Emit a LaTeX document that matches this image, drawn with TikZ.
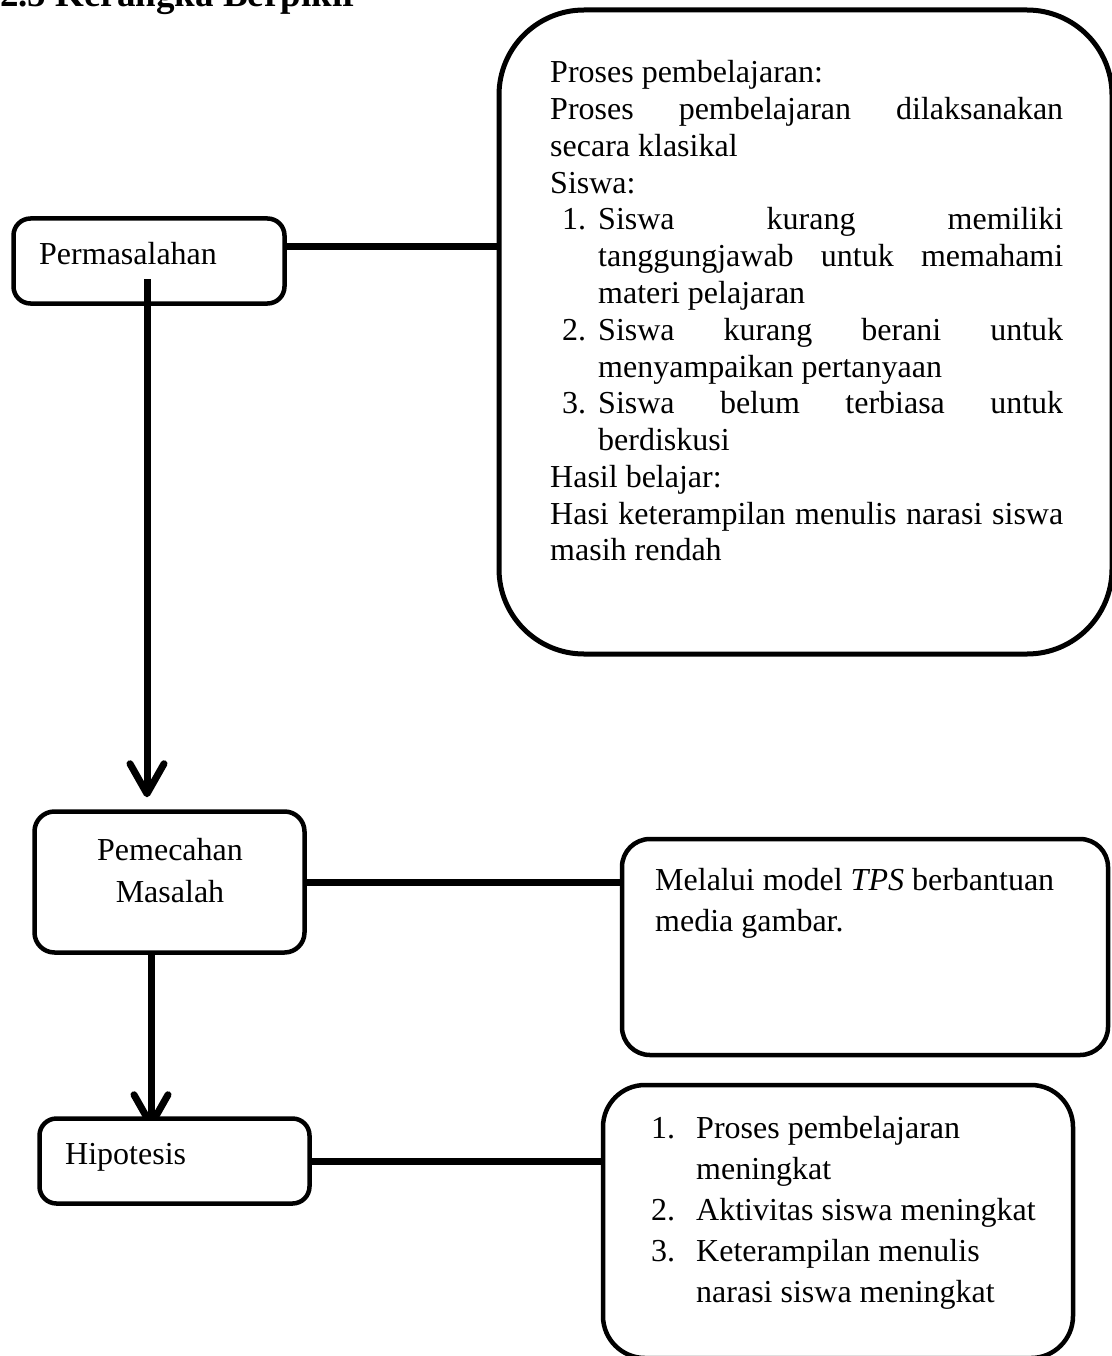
\documentclass[tikz,border=0pt]{standalone}
\usepackage{fontspec}
\setmainfont{Liberation Serif}
\usetikzlibrary{arrows.meta,backgrounds}
\tikzset{
  box/.style={draw, line width=4.5pt, fill=white, inner sep=0pt},
  conn/.style={line width=7pt},
  arr/.style={line width=7pt, -{Straight Barb[length=30pt,width=34pt,round]}},
  txt/.style={inner sep=0pt, anchor=base west, font=\fontsize{32}{36.75}\selectfont},
}
\begin{document}
\begin{tikzpicture}[x=1pt,y=-1pt]
\useasboundingbox (0,0) rectangle (1111,1356);
% title (cut at the top edge)
\node[inner sep=0pt, anchor=base west, font=\fontsize{37}{40}\selectfont\bfseries] (title) at (0,7) {2.5 Kerangka Berpikir};
% boxes
\node[box, minimum width=271pt, minimum height=85pt, rounded corners=17pt] (perm) at (149,261) {};
\node[box, minimum width=270pt, minimum height=141pt, rounded corners=20pt] (pem) at (169.5,882) {};
\node[box, minimum width=270pt, minimum height=85pt, rounded corners=17pt] (hip) at (174.5,1161) {};
\node[box, line width=5pt, minimum width=613pt, minimum height=644pt, rounded corners=85pt] (big) at (805.5,332) {};
\node[box, minimum width=486pt, minimum height=216pt, rounded corners=28pt] (box2) at (865,947) {};
\node[box, minimum width=470pt, minimum height=273pt, rounded corners=42pt] (box3) at (838,1221.5) {};
% left texts
\node[txt] (tperm) at (39,265) {Permasalahan};
\node[txt, anchor=base] (tpem1) at (170,860) {Pemecahan};
\node[txt, anchor=base] (tpem2) at (170,902) {Masalah};
\node[txt] (thip) at (65,1164) {Hipotesis};
% big box text
\node[txt] (b1) at (550,83) {Proses pembelajaran:};
\node[txt] (b2) at (550,119.75) {\makebox[513pt][s]{Proses pembelajaran dilaksanakan}};
\node[txt] (b3) at (550,156.5) {secara klasikal};
\node[txt] (b4) at (550,193.25) {Siswa:};
\node[txt] (n1) at (562,230) {1.};
\node[txt] (b5) at (598,230) {\makebox[465pt][s]{Siswa kurang memiliki}};
\node[txt] (b6) at (598,266.75) {\makebox[465pt][s]{tanggungjawab untuk memahami}};
\node[txt] (b7) at (598,303.5) {materi pelajaran};
\node[txt] (n2) at (562,340.25) {2.};
\node[txt] (b8) at (598,340.25) {\makebox[465pt][s]{Siswa kurang berani untuk}};
\node[txt] (b9) at (598,377) {menyampaikan pertanyaan};
\node[txt] (n3) at (562,413.75) {3.};
\node[txt] (b10) at (598,413.75) {\makebox[465pt][s]{Siswa belum terbiasa untuk}};
\node[txt] (b11) at (598,450.5) {berdiskusi};
\node[txt] (b12) at (550,487.25) {Hasil belajar:};
\node[txt] (b13) at (550,524) {\makebox[513pt][s]{Hasi keterampilan menulis narasi siswa}};
\node[txt] (b14) at (550,560.75) {masih rendah};
% box2 text
\node[txt] (m1) at (655,890) {Melalui model \textit{TPS} berbantuan};
\node[txt] (m2) at (655,931) {media gambar.};
% box3 text
\node[txt] (h1n) at (651,1138) {1.};
\node[txt] (h1) at (696,1138) {Proses pembelajaran};
\node[txt] (h2) at (696,1179) {meningkat};
\node[txt] (h3n) at (651,1220) {2.};
\node[txt] (h3) at (696,1220) {Aktivitas siswa meningkat};
\node[txt] (h4n) at (651,1261) {3.};
\node[txt] (h4) at (696,1261) {Keterampilan menulis};
\node[txt] (h5) at (696,1302) {narasi siswa meningkat};
% connectors
\coordinate (c1) at ([yshift=14pt]perm.east);
\draw[conn] (c1) -- (c1 -| big.west);
\draw[conn] (pem.east) -- (pem.east -| box2.west);
\draw[conn] (hip.east) -- (hip.east -| box3.west);
\coordinate (a1s) at ([xshift=-2pt,yshift=-18pt]perm.center);
\coordinate (a1e) at ([yshift=12pt]pem.north);
\draw[arr] (a1s) -- (a1s |- a1e);
\coordinate (a2s) at ([xshift=-18.5pt,yshift=6pt]pem.south);
\coordinate (a2e) at ([yshift=-12pt]hip.north);
\begin{pgfonlayer}{background}
\draw[arr] (a2s) -- (a2s |- a2e);
\end{pgfonlayer}
\end{tikzpicture}
\end{document}
